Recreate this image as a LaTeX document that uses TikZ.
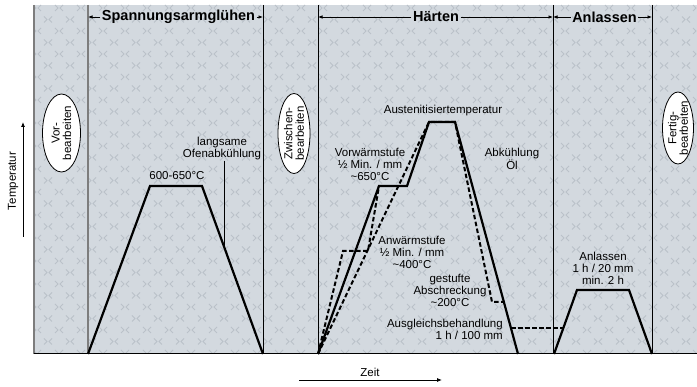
\documentclass[tikz,border=0pt]{standalone}
\usepackage{fontspec}
\setmainfont{Liberation Sans}
\usetikzlibrary{arrows.meta,shapes.geometric}
\definecolor{bgc}{RGB}{211,217,223}
\definecolor{mk}{RGB}{186,193,201}
\definecolor{sepc}{RGB}{125,125,125}
\begin{document}
\begin{tikzpicture}[x=1pt,y=-1pt,
  lbl/.style={font=\fontsize{11.5}{12}\selectfont, inner sep=0pt, align=center},
  ovtext/.style={font=\fontsize{11.5}{11.5}\selectfont, inner sep=0pt, align=center, rotate=90},
  hdr/.style={font=\fontsize{14.5}{16}\selectfont\bfseries, inner sep=1.5pt},
  curve/.style={line width=2.2pt, line join=miter},
  dcurve/.style={line width=2pt, dash pattern=on 4.5pt off 2.5pt},
  oval/.style={ellipse, draw, fill=white, line width=0.8pt, inner sep=0pt},
  harr/.style={-{Latex[length=4.5pt,width=3.5pt]}, line width=0.7pt},
  axarr/.style={-{Latex[length=5pt,width=4pt]}, line width=0.8pt},
  thinsep/.style={line width=0.9pt},
  greysep/.style={sepc, line width=1.4pt}
]
\useasboundingbox (0,0) rectangle (697,387);
\fill[bgc] (34,5) rectangle (697,354);
\begin{scope}
\clip (34,5) rectangle (697,354);
\foreach \r in {0,...,30} {
  \pgfmathsetmacro\yy{8+11.5*\r}
  \pgfmathsetmacro\off{mod(\r,2)*11}
  \foreach \c in {0,...,30} {
    \draw[mk, line width=0.9pt] ({37+22*\c+\off-4},{\yy-3}) -- ++(3,3) -- ++(-3,3)
      ({37+22*\c+\off+4},{\yy-3}) -- ++(-3,3) -- ++(3,3);
  }
}
\end{scope}
% separators
\coordinate (v0t) at (34,5);   \coordinate (v0b) at (34,354);
\coordinate (v1t) at (88,5);   \coordinate (v1b) at (88,354);
\coordinate (v2t) at (263,5);  \coordinate (v2b) at (263,354);
\coordinate (v3t) at (318,5);  \coordinate (v3b) at (318,354);
\coordinate (v4t) at (553,5);  \coordinate (v4b) at (553,354);
\coordinate (v5t) at (652,5);  \coordinate (v5b) at (652,354);
\coordinate (ax1) at (697,354);
\draw[greysep] (v0t) -- (v0b);
\draw[greysep] (v1t) -- (v1b);
\draw[thinsep] (v2t) -- (v2b);
\draw[thinsep] (v3t) -- (v3b);
\draw[thinsep] (v4t) -- (v4b);
\draw[thinsep] (v5t) -- (v5b);
\draw[line width=1pt] (v0b) -- (ax1);
% headers
\node[hdr] (hsp) at (178.5,17) {Spannungsarmglühen};
\node[hdr] (hha) at (436,17) {Härten};
\node[hdr] (han) at (604.5,17) {Anlassen};
\draw[harr] (hsp.west) -- (hsp.west -| v1t);
\draw[harr] (hsp.east) -- (hsp.east -| v2t);
\draw[harr] (hha.west) -- (hha.west -| v3t);
\draw[harr] (hha.east) -- (hha.east -| v4t);
\draw[harr] (han.west) -- (han.west -| v4t);
\draw[harr] (han.east) -- (han.east -| v5t);
% ovals
\node[oval, minimum width=38pt, minimum height=78pt] (vor) at (61.5,133) {};
\node[ovtext] (vortx) at (vor) {Vor-\\bearbeiten};
\node[oval, minimum width=32pt, minimum height=80pt] (zw) at (294,133.5) {};
\node[ovtext] (zwtx) at (zw) {Zwischen-\\bearbeiten};
\node[oval, minimum width=31pt, minimum height=72pt] (fe) at (678,128) {};
\node[ovtext] (fetx) at (fe) {Fertig-\\bearbeiten};
% curve points
\coordinate (s0) at (88,354);  \coordinate (s1) at (150,186);
\coordinate (s2) at (202,186); \coordinate (s3) at (263,354);
\coordinate (h0) at (318,354); \coordinate (h1) at (379,186);
\coordinate (h2) at (407,186); \coordinate (h3) at (429,122);
\coordinate (h4) at (455,122); \coordinate (h5) at (518,354);
\coordinate (a1) at (343,251); \coordinate (a2) at (368,251);
\coordinate (b1) at (492,302); \coordinate (b2) at (504,302);
\coordinate (c0) at (511,328); \coordinate (c1) at (563,328);
\coordinate (n0) at (554,354); \coordinate (n1) at (577,290);
\coordinate (n2) at (629,290); \coordinate (n3) at (652,354);
% dashed curves
\draw[dcurve] (h0) -- (a1) -- (a2) -- (h1);
\draw[dcurve] (h0) -- (h3) -- (h4) -- (b1) -- (b2);
\draw[dcurve] (c0) -- (c1);
% solid curves
\draw[curve] (s0) -- (s1) -- (s2) -- (s3);
\draw[curve] (h0) -- (h1) -- (h2) -- (h3) -- (h4) -- (h5);
\draw[curve] (n0) -- (n1) -- (n2) -- (n3);
% labels
\node[lbl] (t650) at (177,176) {600-650°C};
\node[lbl] (tofen) at (222,149) {langsame\\Ofenabkühlung};
\coordinate (lead) at (224,246);
\draw[line width=0.8pt] (tofen.south -| lead) -- (lead);
\node[lbl] (taus) at (443,111) {Austenitisiertemperatur};
\node[lbl] (tvor) at (370,164.5) {Vorwärmstufe\\½ Min. / mm\\\textasciitilde650°C};
\node[lbl] (tabk) at (512,158.5) {Abkühlung\\Öl};
\node[lbl] (tanw) at (412,252) {Anwärmstufe\\½ Min. / mm\\\textasciitilde400°C};
\node[lbl] (tges) at (450,290) {gestufte\\Abschreckung\\\textasciitilde200°C};
\node[lbl, anchor=east, align=right] (taus2) at (503,329) {Ausgleichsbehandlung\\1 h / 100 mm};
\node[lbl] (tanl) at (603,268) {Anlassen\\1 h / 20 mm\\min. 2 h};
% axes labels
\node[lbl, rotate=90] (ttemp) at (13,181) {Temperatur};
\coordinate (tb) at (23,237); \coordinate (tt) at (23,122);
\draw[axarr] (tb) -- (tt);
\node[lbl] (tzeit) at (370,372) {Zeit};
\coordinate (zl) at (299,380); \coordinate (zr) at (442,380);
\draw[axarr] (zl) -- (zr);
\end{tikzpicture}
\end{document}
